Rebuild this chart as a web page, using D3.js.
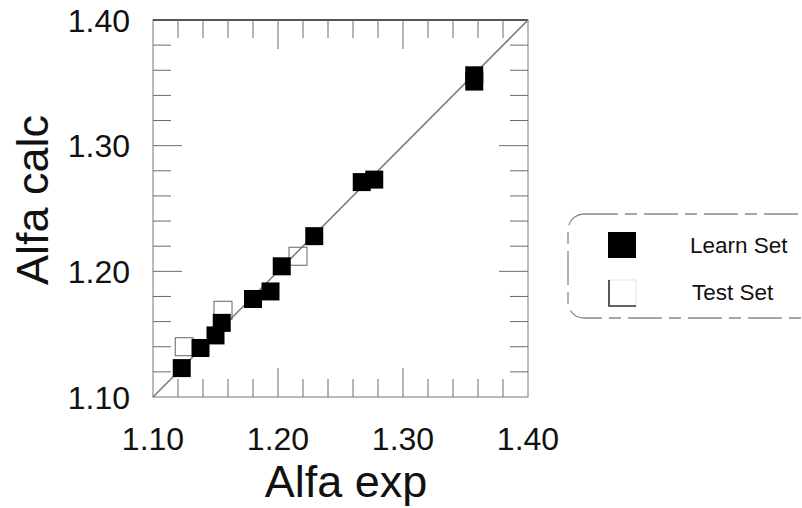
<!DOCTYPE html>
<html>
<head>
<meta charset="utf-8">
<script src="https://cdn.jsdelivr.net/npm/d3@7"></script>
<style>
  html, body { margin: 0; padding: 0; background: #fff; }
  svg { display: block; font-family: "Liberation Sans", Arial, sans-serif; }
</style>
</head>
<body>
<svg id="chart" width="802" height="508"></svg>
<script>
// Learning set: experimental vs calculated alfa
const learnExp  = [1.123, 1.138, 1.150, 1.155, 1.180, 1.194, 1.203, 1.229, 1.267, 1.277, 1.357, 1.357];
const learnCalc = [1.123, 1.139, 1.149, 1.159, 1.178, 1.184, 1.204, 1.228, 1.271, 1.273, 1.356, 1.351];
// Test set
const testExp   = [1.125, 1.156, 1.216];
const testCalc  = [1.140, 1.169, 1.212];

const tickLabels = ["1.10", "1.20", "1.30", "1.40"];
const majorTicks = [1.10, 1.20, 1.30, 1.40];
const minorTicks = d3.range(0, 16).map(i => +(1.10 + i * 0.02).toFixed(2));
const legendLabels = ["Learn Set", "Test Set"];

const svg = d3.select("#chart");
const plotLeft = 153, plotRight = 528, plotTop = 20, plotBottom = 397;
const x = d3.scaleLinear().domain([1.10, 1.40]).range([plotLeft, plotRight]);
const y = d3.scaleLinear().domain([1.10, 1.40]).range([plotBottom, plotTop]);

const minorLen = 18, majorLen = 29;
const isMajor = v => majorTicks.some(m => Math.abs(m - v) < 1e-6);
const tickColor = "#6a6a6a";
const ink = "#111";

// Frame
svg.append("rect")
  .attr("x", plotLeft).attr("y", plotTop)
  .attr("width", plotRight - plotLeft).attr("height", plotBottom - plotTop)
  .attr("fill", "none").attr("stroke", "#777").attr("stroke-width", 1);
svg.append("line")
  .attr("x1", plotLeft).attr("x2", plotRight).attr("y1", plotTop).attr("y2", plotTop)
  .attr("stroke", "#333").attr("stroke-width", 1.4);

// Inward ticks on all four sides
const ticksG = svg.append("g").attr("stroke", tickColor).attr("stroke-width", 1);
minorTicks.filter(v => v > 1.1001 && v < 1.3999).forEach(v => {
  const len = isMajor(v) ? majorLen : minorLen;
  ticksG.append("line").attr("x1", x(v)).attr("x2", x(v)).attr("y1", plotTop).attr("y2", plotTop + len);
  ticksG.append("line").attr("x1", x(v)).attr("x2", x(v)).attr("y1", plotBottom).attr("y2", plotBottom - len);
  ticksG.append("line").attr("y1", y(v)).attr("y2", y(v)).attr("x1", plotLeft).attr("x2", plotLeft + len);
  ticksG.append("line").attr("y1", y(v)).attr("y2", y(v)).attr("x1", plotRight).attr("x2", plotRight - len);
});

// Tick labels
const labelFont = 32;
svg.append("g").selectAll("text")
  .data(majorTicks)
  .join("text")
  .attr("x", d => x(d)).attr("y", 450)
  .attr("text-anchor", "middle")
  .attr("font-size", labelFont).attr("fill", ink)
  .text((d, i) => tickLabels[i]);

svg.append("g").selectAll("text")
  .data(majorTicks)
  .join("text")
  .attr("x", 130).attr("y", d => y(d) + 11.5)
  .attr("text-anchor", "end")
  .attr("font-size", labelFont).attr("fill", ink)
  .text((d, i) => tickLabels[i]);

// Axis titles
svg.append("text")
  .attr("x", 346).attr("y", 497)
  .attr("text-anchor", "middle")
  .attr("font-size", 45).attr("fill", ink)
  .text("Alfa exp");

svg.append("text")
  .attr("transform", "translate(47.5,200) rotate(-90)")
  .attr("text-anchor", "middle")
  .attr("font-size", 45).attr("fill", ink)
  .text("Alfa calc");

// y = x reference line
svg.append("line")
  .attr("x1", x(1.10)).attr("y1", y(1.10))
  .attr("x2", x(1.40)).attr("y2", y(1.40))
  .attr("stroke", "#777").attr("stroke-width", 1.5);

const size = 18;
// Test set: open squares
svg.append("g").selectAll("rect")
  .data(testExp.map((v, i) => [v, testCalc[i]]))
  .join("rect")
  .attr("x", d => x(d[0]) - size / 2).attr("y", d => y(d[1]) - size / 2)
  .attr("width", size).attr("height", size)
  .attr("fill", "none").attr("stroke", "#666").attr("stroke-width", 1);

// Learning set: filled squares
svg.append("g").selectAll("rect")
  .data(learnExp.map((v, i) => [v, learnCalc[i]]))
  .join("rect")
  .attr("x", d => x(d[0]) - size / 2).attr("y", d => y(d[1]) - size / 2)
  .attr("width", size).attr("height", size)
  .attr("fill", "#000");

// Legend
const lg = svg.append("g");
lg.append("rect")
  .attr("x", 568).attr("y", 214).attr("width", 250).attr("height", 104)
  .attr("rx", 16).attr("ry", 16)
  .attr("fill", "none").attr("stroke", "#888").attr("stroke-width", 1.3)
  .attr("stroke-dasharray", "34 7 12 7");
lg.append("rect")
  .attr("x", 608).attr("y", 232).attr("width", 28).attr("height", 26)
  .attr("fill", "#000");
lg.append("rect")
  .attr("x", 609).attr("y", 280).attr("width", 27).attr("height", 26)
  .attr("fill", "none").attr("stroke", "#e2e2e2").attr("stroke-width", 1);
lg.append("path")
  .attr("d", "M609,280V306H636")
  .attr("fill", "none").attr("stroke", "#333").attr("stroke-width", 1.6);
lg.selectAll("text.leg")
  .data(legendLabels)
  .join("text")
  .attr("class", "leg")
  .attr("x", (d, i) => i === 0 ? 690 : 692)
  .attr("y", (d, i) => i === 0 ? 252.5 : 300)
  .attr("font-size", 22.5).attr("fill", ink)
  .text(d => d);
</script>
</body>
</html>
